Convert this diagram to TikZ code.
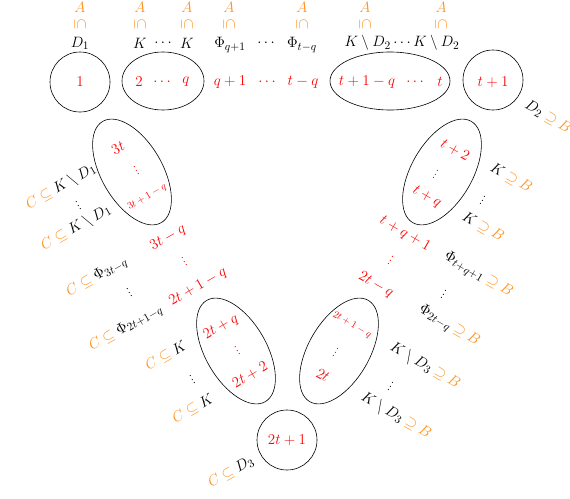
\RequirePackage{fix-cm}
\documentclass[tikz,border=0pt]{standalone}
\usetikzlibrary{shapes.geometric}
\DeclareMathSizes{15}{15}{11.5}{8.5}
\definecolor{orng}{RGB}{255,145,30}
\newcommand{\oc}[1]{\textcolor{orng}{#1}}
\newcommand{\subo}{\mathrel{\oc{\subseteq}}}
\newcommand{\supo}{\mathrel{\oc{\supseteq}}}
\newcommand{\rsub}{\oc{\rotatebox[origin=c]{-90}{$\subseteq$}}}
\tikzset{
  every node/.style={inner sep=0pt, font=\fontsize{15}{18}\selectfont},
  num/.style={text=red},
  smallnum/.style={text=red, font=\fontsize{10}{12}\selectfont},
  lft/.style={rotate=30},
  rgt/.style={rotate=-30},
  ring/.style={draw, circle, line width=0.6pt, minimum size=60pt},
  oval/.style={draw, ellipse, line width=0.6pt, minimum width=117pt, minimum height=61pt},
}
\begin{document}
\begin{tikzpicture}[x=1pt,y=-1pt]
\useasboundingbox (0,0) rectangle (570,498);
% ---- shapes
\node[ring] (c1) at (80,82) {};
\node[draw, ellipse, line width=0.6pt, minimum width=82pt, minimum height=58pt] (e2) at (163,81) {};
\node[draw, ellipse, line width=0.6pt, minimum width=120pt, minimum height=58pt] (e3) at (390,81) {};
\node[ring] (c4) at (493,80) {};
\node[oval, rotate=60] (er1) at (442,172) {};
\node[oval, rotate=60] (er2) at (339,351) {};
\node[oval, rotate=-60] (el1) at (132,172) {};
\node[oval, rotate=-60] (el2) at (236,351) {};
\node[ring] (c5) at (287,440) {};
% ---- top A's
\foreach \x/\n in {80/1,140/2,187/3,229/4,302/5,365/6,441/7}{
  \node[text=orng] (a\n) at (\x,7) {$A$};
  \node (s\n) at (\x,24) {\rsub};
}
% ---- top labels
\node (tD1) at (80,43) {$D_1$};
\node (tK1) at (140,43) {$K$};
\node (tdots1) at (163,43) {$\cdots$};
\node (tK2) at (187,43) {$K$};
\node (tP1) at (230,45) {$\Phi_{q+1}$};
\node (tdots2) at (266,43) {$\cdots$};
\node (tP2) at (302,45) {$\Phi_{t-q}$};
\node (tKD) at (402,43) {$K\setminus D_2\cdots K\setminus D_2$};
% ---- top red row
\node[num] (n1) at (80,82) {$1$};
\node[num] (n2) at (139,82) {$2$};
\node[num] (nd1) at (162,82) {$\cdots$};
\node[num] (nq) at (186,82) {$q$};
\node[num] (nq1) at (230,82) {$q+1$};
\node[num] (nd2) at (267,82) {$\cdots$};
\node[num] (ntq) at (303,82) {$t-q$};
\node[num] (nt1q) at (367,82) {$t+1-q$};
\node[num] (nd3) at (415,82) {$\cdots$};
\node[num] (nt) at (440,82) {$t$};
\node[num] (nt1) at (493,82) {$t+1$};
% ---- left red column
\node[num,lft] (l1) at (118,148) {$3t$};
\node[num,lft] (l2) at (135,168) {$\vdots$};
\node[smallnum,lft] (l3) at (147,197) {$3t+1-q$};
\node[num,lft] (l4) at (168,238) {$3t-q$};
\node[num,lft] (l5) at (183,259) {$\vdots$};
\node[num,lft] (l6) at (198,287) {$2t+1-q$};
\node[num,lft] (l7) at (221,327) {$2t+q$};
\node[num,lft] (l8) at (236,348) {$\vdots$};
\node[num,lft] (l9) at (250,375) {$2t+2$};
\node[num] (n2t1) at (287,440) {$2t+1$};
% ---- right red column
\node[num,rgt] (r1) at (455,150) {$t+2$};
\node[num,rgt] (r2) at (437,172) {$\vdots$};
\node[num,rgt] (r3) at (427,197) {$t+q$};
\node[num,rgt] (r4) at (405,234) {$t+q+1$};
\node[num,rgt] (r5) at (392,258) {$\vdots$};
\node[num,rgt] (r6) at (376,285) {$2t-q$};
\node[smallnum,rgt] (r7) at (352,325) {$2t+1-q$};
\node[num,rgt] (r8) at (337,350) {$\vdots$};
\node[num,rgt] (r9) at (323,375) {$2t$};
% ---- left labels
\node[lft] (ll1) at (61,187) {$\oc{C}\subo K\setminus D_1$};
\node[lft] (ll2) at (77,203) {$\vdots$};
\node[lft] (ll3) at (76,228) {$\oc{C}\subo K\setminus D_1$};
\node[lft] (ll4) at (97,277) {$\oc{C}\subo \Phi_{3t-q}$};
\node[lft] (ll5) at (128,290) {$\vdots$};
\node[lft] (ll6) at (126,328) {$\oc{C}\subo \Phi_{2t+1-q}$};
\node[lft] (ll7) at (166,356) {$\oc{C}\subo K$};
\node[lft] (ll8) at (191,377) {$\vdots$};
\node[lft] (ll9) at (193,409) {$\oc{C}\subo K$};
\node[lft] (ll10) at (231,472) {$\oc{C}\subo D_3$};
% ---- right labels
\node[rgt] (rl0) at (548,117) {$D_2\supo\oc{B}$};
\node[rgt] (rl1) at (511,178) {$K\supo\oc{B}$};
\node[rgt] (rl2) at (484,198) {$\vdots$};
\node[rgt] (rl3) at (483,227) {$K\supo\oc{B}$};
\node[rgt] (rl4) at (478,275) {$\Phi_{t+q+1}\supo\oc{B}$};
\node[rgt] (rl5) at (445,292) {$\vdots$};
\node[rgt] (rl6) at (449,326) {$\Phi_{2t-q}\supo\oc{B}$};
\node[rgt] (rl7) at (425,366) {$K\setminus D_3\supo\oc{B}$};
\node[rgt] (rl8) at (392,384) {$\vdots$};
\node[rgt] (rl9) at (396,416) {$K\setminus D_3\supo\oc{B}$};
\end{tikzpicture}
\end{document}
